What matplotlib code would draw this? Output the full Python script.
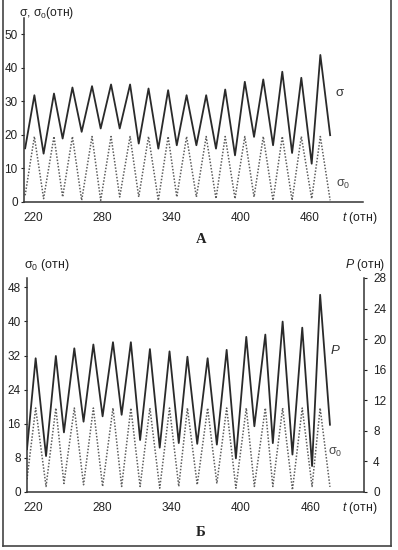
"""Sawtooth stress curves, two panels (A: sigma and sigma0, Б: sigma0 and P)."""
import numpy as np
import matplotlib
matplotlib.use('Agg')
import matplotlib.pyplot as plt
from matplotlib.lines import Line2D

plt.rcParams['font.family'] = ['Liberation Sans', 'DejaVu Sans']
plt.rcParams['mathtext.fontset'] = 'custom'
plt.rcParams['mathtext.rm'] = 'Liberation Sans'
plt.rcParams['mathtext.it'] = 'Liberation Sans:italic'
plt.rcParams['mathtext.default'] = 'regular'

# panel A: start point, then alternating peak / trough
t_a = [213, 221, 229, 238, 245.5, 254, 262, 271, 278.5, 287.5, 295, 304, 311.5,
       320, 328.5, 337, 344.5, 353, 361.5, 370, 378.5, 386.5, 395, 403.5, 411.5,
       419.5, 428, 436, 444.5, 452.5, 461.5, 469, 477.5]
sigma_a = [16, 31.8, 14.4, 32.3, 18.9, 34.1, 20.9, 34.5, 21.9, 35, 21.9, 35, 17.4,
           33.8, 15.9, 33.3, 16.9, 31.8, 16.9, 31.8, 15.9, 33.5, 13.9, 35.8, 19.4,
           36.5, 16.9, 38.8, 14.6, 37, 11.4, 43.8, 19.9]
sigma0_a = [2, 19.5, 1, 19.5, 1.5, 19.5, 0.5, 19.5, 0.5, 19.5, 1.5, 19.5, 1.5,
            19.5, 0.5, 19.5, 1.5, 19.5, 1.5, 19.5, 1, 19.5, 1, 19.5, 1.5, 19.5,
            0.5, 19.5, 0.5, 19.5, 1, 19.5, 0.5]

# panel Б
t_b = [214.5, 222, 231, 239.5, 246.5, 255.5, 263.5, 272, 280, 289, 296.5, 304.5,
       312.5, 321, 329.5, 338, 346, 353.5, 362, 371, 379, 387.5, 395.5, 404.5,
       411.5, 421, 427.5, 436, 444.5, 453, 461.5, 468.5, 477]
p_b = [5.6, 17.5, 4.7, 17.8, 7.8, 18.8, 9.2, 19.3, 9.9, 19.6, 10.1, 19.6, 6.8,
       18.7, 5.8, 18.4, 6.4, 17.7, 6.3, 17.5, 6.2, 18.6, 4.4, 20.3, 8.6, 20.6,
       6.4, 22.3, 4.9, 21.5, 3.4, 25.8, 8.8]
sigma0_b = [3, 19.7, 1.3, 19.7, 2, 19.7, 1.7, 19.7, 1.3, 19.7, 1.3, 19.7, 1.3,
            19.7, 0.9, 19.7, 1.3, 19.7, 1.7, 19.7, 2, 19.7, 0.9, 19.7, 1.3, 19.7,
            1.3, 19.7, 0.5, 19.7, 1.3, 19.7, 1.2]

x_ticks = [220, 280, 340, 400, 460]

SOLID = '#2a2a2a'
DOT = '#5e5e5e'
FS = 8.5


def style_axis(ax):
    ax.spines['top'].set_visible(False)
    ax.spines['right'].set_visible(False)
    for s in ('left', 'bottom'):
        ax.spines[s].set_linewidth(1.1)
        ax.spines[s].set_color('#333333')
    ax.set_xticks(x_ticks)
    ax.tick_params(axis='x', length=0, pad=7, labelsize=FS, colors='#222222')
    ax.tick_params(axis='y', length=2.5, width=0.8, pad=2, labelsize=FS, colors='#222222')


fig = plt.figure(figsize=(3.98, 5.5), dpi=100)

# ---- panel A
ax1 = fig.add_axes([24 / 398, 1 - 202 / 550, 339 / 398, 184 / 550])
ax1.plot(t_a, sigma_a, color=SOLID, lw=1.3)
ax1.plot(t_a, sigma0_a, color=DOT, lw=1.1, ls=(0, (1, 1.1)))
ax1.set_xlim(212, 506)
ax1.set_ylim(0, 54.8)
ax1.set_yticks([0, 10, 20, 30, 40, 50])
style_axis(ax1)

fig.text(19 / 398, 1 - 13 / 550, 'σ, σ$_0$(отн)', fontsize=8.7, va='center', color='#222222')
fig.text(342 / 398, 1 - 218 / 550, r'$\it{t}$ (отн)', fontsize=8.8, va='center', color='#222222')
fig.text(335 / 398, 1 - 93 / 550, 'σ', fontsize=9.5, va='center', color='#333333')
fig.text(336 / 398, 1 - 184 / 550, 'σ$_0$', fontsize=9, va='center', color='#444444')
fig.text(201 / 398, 1 - 240 / 550, 'А', fontsize=10.5, fontweight='bold',
         family='Liberation Serif', ha='center', va='center', color='#222222')

# ---- panel Б
ax2 = fig.add_axes([27 / 398, 1 - 492 / 550, 337 / 398, 214 / 550])
ax3 = ax2.twinx()
ax2.plot(t_b, sigma0_b, color=DOT, lw=1.1, ls=(0, (1, 1.1)))
ax3.plot(t_b, p_b, color=SOLID, lw=1.3)
ax2.set_xlim(214.5, 506.5)
ax2.set_ylim(0, 50.2)
ax2.set_yticks([0, 8, 16, 24, 32, 40, 48])
ax3.set_ylim(0, 28)
ax3.set_yticks([0, 4, 8, 12, 16, 20, 24, 28])
style_axis(ax2)
ax3.spines['top'].set_visible(False)
ax3.spines['left'].set_visible(False)
ax3.spines['bottom'].set_visible(False)
ax3.spines['right'].set_linewidth(1.1)
ax3.spines['right'].set_color('#333333')
ax3.tick_params(axis='y', length=2.5, width=0.8, pad=4, labelsize=FS, colors='#222222')

fig.text(24 / 398, 1 - 265 / 550, 'σ$_0$ (отн)', fontsize=9, va='center', color='#222222')
fig.text(345 / 398, 1 - 265 / 550, r'$\it{P}$ (отн)', fontsize=8.8, va='center', color='#222222')
fig.text(342 / 398, 1 - 508 / 550, r'$\it{t}$ (отн)', fontsize=8.8, va='center', color='#222222')
fig.text(330 / 398, 1 - 350 / 550, r'$\it{P}$', fontsize=9.5, va='center', color='#333333')
fig.text(328 / 398, 1 - 452 / 550, 'σ$_0$', fontsize=9, va='center', color='#444444')
fig.text(201 / 398, 1 - 532 / 550, 'Б', fontsize=10.5, fontweight='bold',
         family='Liberation Serif', ha='center', va='center', color='#222222')

# frame around the whole figure
for xs, ys in [([3, 3], [0, 546]), ([391, 391], [0, 546]), ([3, 391], [546, 546])]:
    fig.add_artist(Line2D([x / 398 for x in xs], [1 - y / 550 for y in ys],
                          color='#444444', lw=1.2))

fig.savefig('out.png', dpi=100)
